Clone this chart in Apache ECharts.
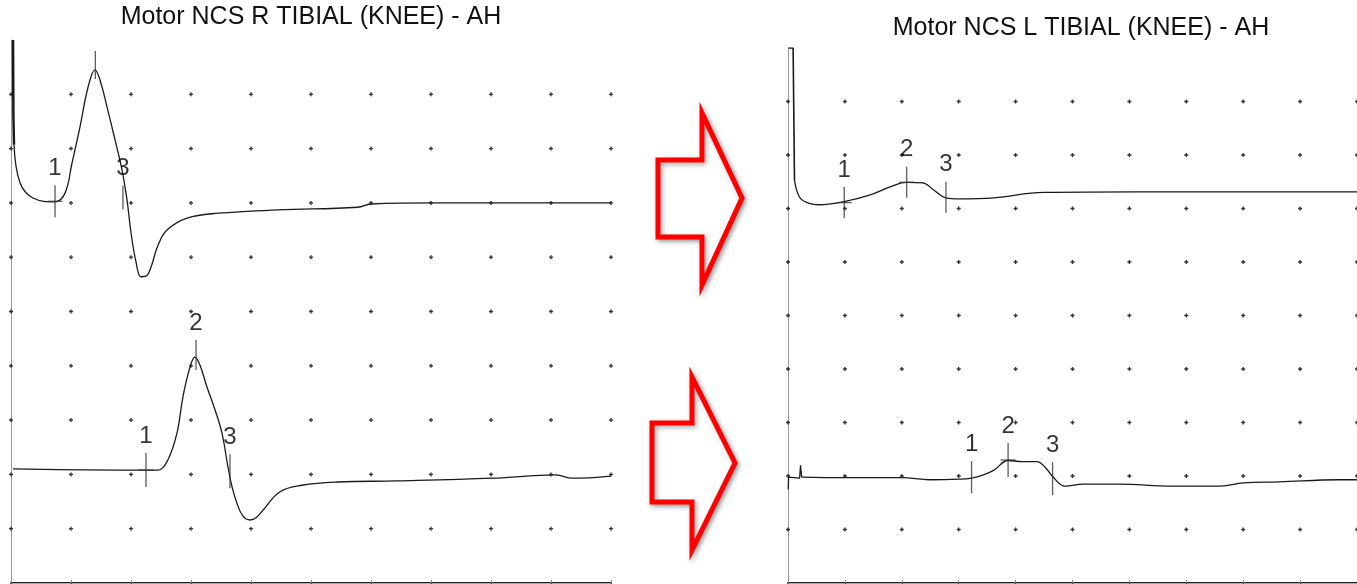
<!DOCTYPE html>
<html>
<head>
<meta charset="utf-8">
<script src="https://cdn.jsdelivr.net/npm/echarts@6/dist/echarts.min.js"></script>
<style>
  html, body { margin: 0; padding: 0; background: #fff; }
  #myChart { width: 1357px; height: 584px; }
</style>
</head>
<body>
<div id="myChart"></div>
<script>
// x in ms (5 ms / div), y in divisions of the screen (0 = bottom, 10 = top)
const xTicks = [0, 5, 10, 15, 20, 25, 30, 35, 40, 45, 50];
const yTicks = [1, 2, 3, 4, 5, 6, 7, 8, 9];
const titles = ['Motor NCS R TIBIAL (KNEE) - AH', 'Motor NCS L TIBIAL (KNEE) - AH'];

// stimulus artefacts (drawn straight)
const rightTopStim = [[0.17, 10], [0.2, 8.6], [0.25, 8.07]];
const leftTopStim = [[0.05, 10], [0.45, 10], [0.57, 7.53]];
const leftBottomStim = [[0.02, 1.75], [0.05, 1.98], [1.02, 1.96], [1.1, 2.2], [1.2, 1.98]];

// R tibial, upper trace
const rightTop = [
  [0.25, 8.07], [0.75, 7.37], [1.83, 7.09], [3.67, 7.02], [4.5, 7.18],
  [5.08, 7.73], [5.75, 8.4], [6.42, 9.13], [7.0, 9.45], [7.42, 9.26], [8.0, 8.77], [8.67, 8.16],
  [9.25, 7.61], [9.67, 7.05], [10.0, 6.45], [10.42, 5.91], [10.83, 5.64], [11.25, 5.65],
  [11.67, 5.82], [12.25, 6.22], [13.0, 6.5], [14.67, 6.72], [17.3, 6.81], [22.25, 6.87],
  [28.9, 6.92], [30.0, 6.98], [35.5, 7.0], [50, 7.0]
];
// R tibial, lower trace
const rightBottom = [
  [0.17, 2.1], [9.0, 2.08], [11.25, 2.08], [12.25, 2.08], [13.08, 2.27], [13.83, 2.76],
  [14.33, 3.43], [14.92, 3.98], [15.33, 4.16], [15.75, 4.01], [16.33, 3.61], [17.0, 3.19],
  [17.58, 2.76], [18.08, 2.14], [18.42, 1.77], [18.83, 1.47], [19.33, 1.23], [19.92, 1.16],
  [20.42, 1.2], [21.0, 1.34], [22.42, 1.68], [24.25, 1.8], [27.25, 1.86], [32.17, 1.88],
  [40.17, 1.93], [45.42, 1.99], [46.75, 1.93], [50, 1.97]
];
// L tibial, upper trace
const leftTop = [
  [0.57, 7.53], [1.02, 7.21], [1.79, 7.1], [2.73, 7.07], [4.94, 7.13],
  [7.16, 7.25], [8.69, 7.38], [9.97, 7.48], [10.43, 7.49], [11.84, 7.48], [12.78, 7.35],
  [13.88, 7.2], [14.99, 7.18], [18.1, 7.2], [22.5, 7.3], [30.6, 7.31], [48.4, 7.31], [50, 7.31]
];
// L tibial, lower trace
const leftBottom = [
  [1.2, 1.98], [4.94, 1.97], [9.97, 1.97], [12.44, 1.93], [15.0, 1.94], [16.13, 1.96], [17.17, 2.02],
  [18.1, 2.11], [19.34, 2.29], [20.6, 2.27], [21.87, 2.27], [22.65, 2.15], [23.25, 1.99],
  [24.36, 1.81], [25.94, 1.85], [29.05, 1.85], [33.73, 1.81], [37.8, 1.81], [40.03, 1.87],
  [43.2, 1.89], [48.4, 1.93], [50, 1.93]
];

// cursors: [x, y centre, label, tick length, cross]
const rightTopMarks = [[3.67, 7.03, '1', 32, true], [7.03, 9.54, '', 28, false], [9.33, 7.1, '3', 24, false]];
const rightBottomMarks = [[11.25, 2.08, '1', 34, true], [15.42, 4.2, '2', 30, false], [18.25, 2.06, '3', 34, false]];
const leftTopMarks = [[4.94, 7.11, '1', 31, true], [10.43, 7.49, '2', 31, true], [13.88, 7.21, '3', 31, false]];
const leftBottomMarks = [[16.13, 1.98, '1', 32, false], [19.34, 2.3, '2', 34, true], [23.25, 1.95, '3', 33, false]];

const grids = [
  {left: 11, top: 40, width: 600, height: 543},
  {left: 788, top: 48, width: 587, height: 535}
];

let xAxis = [];
let yAxis = [];
grids.forEach((g, i) => {
  xAxis.push({
    type: 'value', gridIndex: i, position: 'top', min: 0, max: 50, interval: 5,
    axisLine: {show: true, lineStyle: {color: '#222', width: 2}},
    axisTick: {show: true, inside: true, length: 3, lineStyle: {color: '#333'}},
    axisLabel: {show: false}, splitLine: {show: false}
  });
  xAxis.push({
    type: 'value', gridIndex: i, position: 'bottom', min: 0, max: 50, interval: 5,
    axisLine: {show: true, lineStyle: {color: '#aaa', width: 1}},
    axisTick: {show: true, inside: true, length: 3, lineStyle: {color: '#888'}},
    axisLabel: {show: false}, splitLine: {show: false}
  });
  yAxis.push({
    type: 'value', gridIndex: i, min: 0, max: 10, interval: 1,
    axisLine: {show: true, lineStyle: {color: '#999', width: 1}},
    axisTick: {show: false}, axisLabel: {show: false}, splitLine: {show: false}
  });
});

// dotted screen grid
function dots(i) {
  let pts = [];
  xTicks.forEach(x => yTicks.forEach(y => pts.push([x, y])));
  return {
    type: 'scatter', xAxisIndex: i * 2, yAxisIndex: i, data: pts, silent: true,
    symbol: 'path://M1,0H2V1H3V2H2V3H1V2H0V1H1Z', symbolSize: 4,
    itemStyle: {color: '#000'}
  };
}

function trace(i, data, smooth, width) {
  return {
    type: 'line', xAxisIndex: i * 2, yAxisIndex: i, data: data, showSymbol: false,
    smooth: smooth, silent: true,
    lineStyle: {color: '#1a1a1a', width: width || 1.3}
  };
}

function marks(i, list) {
  return [
    {
      type: 'scatter', xAxisIndex: i * 2, yAxisIndex: i, silent: true, z: 5,
      data: list.map(m => ({value: [m[0], m[1]], symbolSize: [1.3, m[3]], label: {formatter: m[2]}})),
      symbol: 'rect', itemStyle: {color: '#333'},
      label: {show: true, position: 'top', distance: 5, color: '#000', fontSize: 24,
        fontFamily: 'Liberation Sans'}
    },
    {
      type: 'scatter', xAxisIndex: i * 2, yAxisIndex: i, silent: true, z: 5,
      data: list.filter(m => m[4]).map(m => [m[0], m[1]]),
      symbol: 'rect', symbolSize: [15, 1.3], itemStyle: {color: '#333'}
    }
  ];
}

function arrow(pts) {
  return {
    type: 'polygon', silent: true,
    shape: {points: pts},
    style: {fill: '#fff', stroke: '#ff0000', lineWidth: 5, lineJoin: 'miter',
      shadowBlur: 5, shadowColor: 'rgba(0,0,0,0.35)', shadowOffsetX: 2, shadowOffsetY: 2}
  };
}

const titleStyle = {fontSize: 25, fontWeight: 'normal', color: '#111', fontFamily: 'Liberation Sans'};

let option = {
  animation: false,
  backgroundColor: '#fff',
  title: [
    {text: titles[0], left: 311, top: 5, textAlign: 'center', padding: 0, textStyle: titleStyle},
    {text: titles[1], left: 1081, top: 16, textAlign: 'center', padding: 0, textStyle: titleStyle}
  ],
  grid: grids,
  xAxis: xAxis,
  yAxis: yAxis,
  series: [
    dots(0), dots(1),
    trace(0, rightTopStim, false, 2.5), trace(0, rightTop, 0.4), trace(0, rightBottom, 0.4),
    trace(1, leftTopStim, false, 1.6), trace(1, leftTop, 0.4),
    trace(1, leftBottomStim, false), trace(1, leftBottom, 0.4),
    ...marks(0, rightTopMarks), ...marks(0, rightBottomMarks),
    ...marks(1, leftTopMarks), ...marks(1, leftBottomMarks)
  ],
  graphic: [
    arrow([[658, 160], [702, 160], [702, 113], [742, 198], [702, 285], [702, 237], [658, 237]]),
    arrow([[652, 423], [692, 423], [692, 377], [735, 463], [692, 550], [692, 502], [652, 502]])
  ]
};

const myChart = echarts.init(document.getElementById('myChart'));
myChart.setOption(option);
</script>
</body>
</html>
